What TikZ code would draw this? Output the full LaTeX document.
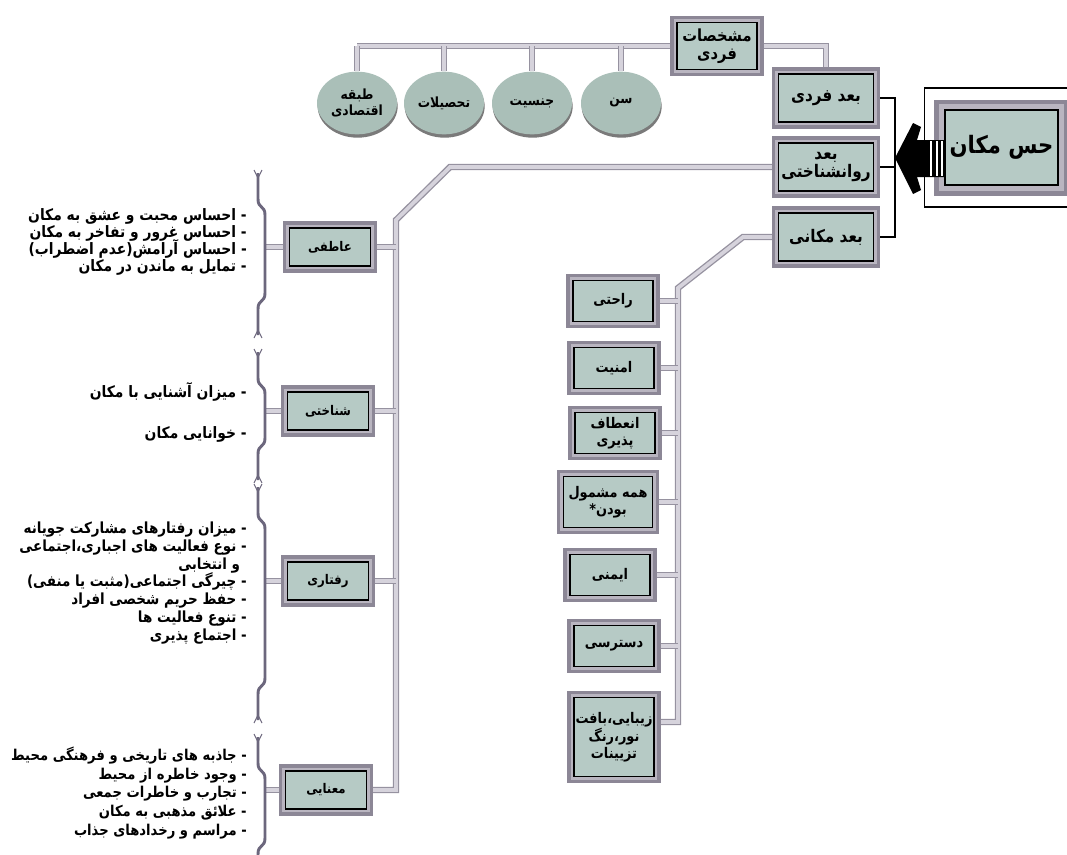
\documentclass[tikz,border=0pt]{standalone}
\usepackage{fontspec}
\newfontfamily\fafont[Script=Arabic, FakeStretch=0.88]{DejaVu Sans}
\TeXXeTstate=1
\usetikzlibrary{shapes.geometric,shadows,backgrounds,fit}

\definecolor{cajafondo}{RGB}{182,202,197}
\definecolor{marcooscuro}{RGB}{140,135,150}
\definecolor{marcoclaro}{RGB}{185,181,192}
\definecolor{ovalofondo}{RGB}{170,191,184}
\definecolor{tuboborde}{RGB}{150,146,160}
\definecolor{tubofondo}{RGB}{214,211,220}
\definecolor{llavecolor}{RGB}{108,103,125}

\newcommand{\fa}[1]{\beginR #1\endR}
\newcommand{\apretado}{\lineskiplimit=-20pt\relax}

\tikzset{
  caja/.style={draw=black, line width=1pt, fill=cajafondo,
    preaction={draw=marcooscuro, line width=10pt},
    preaction={draw=marcoclaro, line width=5pt},
    align=center, inner sep=1pt, minimum width=71pt, minimum height=36pt,
    font=\fafont\bfseries\fontsize{13}{13.5}\selectfont},
  cajagrande/.style={draw=black, line width=1.2pt, fill=cajafondo,
    preaction={draw=marcooscuro, line width=16pt},
    preaction={draw=marcoclaro, line width=9pt},
    inner sep=0.5pt, minimum width=85pt, minimum height=56pt,
    font=\fafont\bfseries\fontsize{18}{20}\selectfont},
  cajachica/.style={caja, minimum width=61pt, minimum height=28.5pt,
    font=\fafont\bfseries\fontsize{10}{11}\selectfont},
  cajamedia/.style={caja, minimum width=60pt, minimum height=31pt,
    font=\fafont\bfseries\fontsize{11}{12.5}\selectfont},
  ovalo/.style={ellipse, fill=ovalofondo, minimum width=60pt, minimum height=47pt,
    align=center, inner sep=0pt,
    drop shadow={opacity=0.8, fill=gray!70!black, shadow xshift=0.5pt, shadow yshift=-2.5pt},
    font=\fafont\bfseries\fontsize{10.5}{12.5}\selectfont},
  lista/.style={anchor=east, align=right, inner sep=0pt},
  marco/.style={draw=black, line width=1.1pt},
  tubo/.style={draw=tubofondo, line width=2.8pt,
    preaction={draw=tuboborde, line width=4.8pt}},
  corchete/.style={draw=black, line width=1.5pt},
  llave/.style={draw=llavecolor, line width=2.2pt}
}

\begin{document}
\begin{tikzpicture}[x=0.75pt,y=-0.75pt]
\useasboundingbox (0,0) rectangle (1067,854);

% nodo principal
\node[cajagrande] (hs) at (1001.5,147.5) {\fa{حس مکان}};
\node[marco, fit=(hs), inner xsep=14.5pt, inner ysep=16pt] (mc) {};

% dimensiones
\node[caja] (bf) at (826,98) {\fa{بعد فردی}};
\node[caja] (br) at (826,167) {\fa{بعد}\\\fa{روانشناختی}};
\node[caja] (bm) at (826,237) {\fa{بعد مکانی}};

% flecha
\coordinate (punta) at (895,158);
\fill (punta) -- (913,123) -- (921,127) -- (917,140) -- (945,140) -- (945,177)
  -- (917,177) -- (921,190) -- (913,194) -- cycle;
\foreach \x in {931,937,942}
  \draw[white, line width=0.9pt] (\x,141) -- (\x,176);

% caracteristicas individuales
\node[caja, minimum width=60pt, minimum height=35pt,
  font=\fafont\bfseries\fontsize{12.5}{13.5}\selectfont] (mf) at (717,46) {\fa{مشخصات}\\\fa{فردی}};
\node[ovalo] (osen) at (621,103) {\fa{سن}};
\node[ovalo] (ojen) at (532,103) {\fa{جنسیت}};
\node[ovalo] (otah) at (444,103) {\fa{تحصیلات}};
\node[ovalo] (otab) at (357,103) {\fa{طبقه}\\\fa{اقتصادی}};

% rama izquierda
\node[cajachica] (af) at (330,247) {\fa{عاطفی}};
\node[cajachica] (sh) at (328,411) {\fa{شناختی}};
\node[cajachica] (rf) at (328,581) {\fa{رفتاری}};
\node[cajachica] (mn) at (326,790) {\fa{معنایی}};

\node[lista, font=\fafont\bfseries\fontsize{11.8}{12.6}\selectfont\apretado] (laf) at (247,242)
  {\fa{- احساس محبت و عشق به مکان}\\\fa{- احساس غرور و تفاخر به مکان}\\
   \fa{- احساس آرامش(عدم اضطراب)}\\\fa{- تمایل به ماندن در مکان}};
\node[lista, font=\fafont\bfseries\fontsize{11.8}{10.9}\selectfont] (lsh) at (247,412)
  {\fa{- میزان آشنایی با مکان}\\[18pt]\fa{- خوانایی مکان}};
\node[lista, font=\fafont\bfseries\fontsize{11.5}{13.3}\selectfont] (lrf) at (247,583)
  {\fa{- میزان رفتارهای مشارکت جویانه}\\\fa{- نوع فعالیت های اجباری،اجتماعی}\\
   \fa{\hspace{5pt}و انتخابی}\\\fa{- چیرگی اجتماعی(مثبت یا منفی)}\\
   \fa{- حفظ حریم شخصی افراد}\\\fa{- تنوع فعالیت ها}\\\fa{- اجتماع پذیری}};
\node[lista, font=\fafont\bfseries\fontsize{11.2}{13.9}\selectfont] (lmn) at (247,793)
  {\fa{- جاذبه های تاریخی و فرهنگی محیط}\\\fa{- وجود خاطره از محیط}\\
   \fa{- تجارب و خاطرات جمعی}\\\fa{- علائق مذهبی به مکان}\\
   \fa{- مراسم و رخدادهای جذاب}};

% llaves
\coordinate (llaves) at (265,0);
\foreach \t/\b in {173/335, 352/480, 487/720, 737/880} {
  \draw[llave] (258,\t) -- (258,\t+26) .. controls (258,\t+36) and (265,\t+32) .. (265,\t+42)
    -- (265,\b-42) .. controls (265,\b-32) and (258,\b-36) .. (258,\b-26) -- (258,\b);
  \draw[llave, line width=0.8pt] (254,\t-3) -- (258,\t+5) -- (262,\t-3);
  \draw[llave, line width=0.8pt] (254,\b+3) -- (258,\b-5) -- (262,\b+3);
}

% rama central
\node[cajamedia] (ra) at (613,301) {\fa{راحتی}};
\node[cajamedia] (am) at (614,368) {\fa{امنیت}};
\node[cajamedia] (en) at (615,433) {\fa{انعطاف}\\\fa{پذیری}};
\node[cajamedia, minimum width=67pt, minimum height=38pt] (hm) at (608,502) {\fa{همه مشمول}\\\fa{بودن*}};
\node[cajamedia] (ay) at (610,575) {\fa{ایمنی}};
\node[cajamedia] (ds) at (614,646) {\fa{دسترسی}};
\node[cajamedia, minimum height=59pt] (zy) at (614,737) {\fa{زیبایی،بافت}\\\fa{نور،رنگ}\\\fa{تزیینات}};

\coordinate (c1) at (450,167);
\coordinate (c2) at (396,220);
\coordinate (d1) at (743,237);
\coordinate (d2) at (678,288);
\coordinate (d3) at (678,722);

% conectores
\begin{scope}[on background layer]
  \draw[tubo] (mf.west) -- (mf.west -| otab.north);
  \foreach \o in {osen,ojen,otah,otab}
    \draw[tubo] (\o.north) -- (\o.north |- mf.west);
  \draw[tubo] (mf.east) -| (bf.north);
  \draw[tubo] (br.west) -- (c1) -- (c2) -- (c2 |- mn.east) -- (mn.east);
  \foreach \n in {af,sh,rf}
    \draw[tubo] (\n.east) -- (\n.east -| c2);
  \foreach \n in {af,sh,rf,mn}
    \draw[tubo] (\n.west) -- (\n.west -| llaves);
  \draw[tubo] (bm.west) -- (d1) -- (d2) -- (d3) -- (d3 -| zy.east);
  \foreach \n in {ra,am,en,hm,ay,ds}
    \draw[tubo] (\n.east) -- (\n.east -| d2);
  % corchete
  \draw[corchete] (bf.east) -- (bf.east -| punta) -- (bm.east -| punta) -- (bm.east);
  \draw[corchete] (br.east) -- (br.east -| punta);
\end{scope}
\end{tikzpicture}
\end{document}
